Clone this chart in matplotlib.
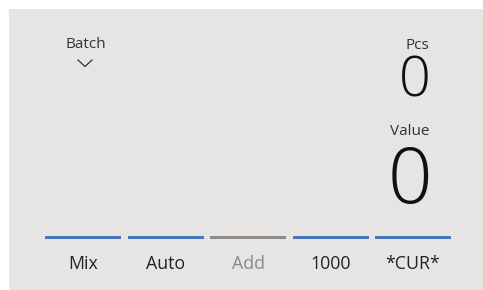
import matplotlib.pyplot as plt
from matplotlib.patches import Rectangle

# screen contents
modes = ["Mix", "Auto", "Add", "1000", "*CUR*"]
active = [True, True, False, True, True]
pcs_value = 0
total_value = 0
batch_label = "Batch"

W, H = 483, 290
BLUE = "#4a76bd"
GREY = "#8f8c89"
BG = "#e6e5e3"

plt.rcParams['font.family'] = ['Open Sans', 'DejaVu Sans']

fig = plt.figure(figsize=(W / 100, H / 100), dpi=100)
fig.patch.set_facecolor("white")
ax = fig.add_axes([0, 0, 1, 1])
ax.set_xlim(0, W)
ax.set_ylim(H, 0)
ax.axis("off")

ax.add_patch(Rectangle((9, 9), W - 9, H - 9, color=BG, lw=0))

# top left: batch selector
ax.text(86, 44.5, batch_label, ha="center", va="center", fontsize=11, color="#333333")
ax.plot([78, 85, 92], [60, 66.5, 60], color="#333333", lw=0.9)

# right side counters
ax.text(429, 45.5, "Pcs", ha="right", va="center", fontsize=11, color="#333333")
ax.text(431, 82, str(pcs_value), ha="right", va="center", fontsize=40,
        fontweight="light", color="#111111")
ax.text(429, 131.5, "Value", ha="right", va="center", fontsize=11, color="#333333")
ax.text(432, 183, str(total_value), ha="right", va="center", fontsize=56,
        fontweight="light", color="#111111")

# bottom mode buttons
x0, w, step = 45, 76, 82.5
for i, (name, on) in enumerate(zip(modes, active)):
    x = x0 + i * step
    ax.add_patch(Rectangle((x, 236), w, 3, color=BLUE if on else GREY, lw=0))
    ax.text(x + w / 2, 264, name, ha="center", va="center", fontsize=12.8,
            color="#222222" if on else "#8a8a8a")

fig.savefig("out.png", dpi=100, facecolor=fig.get_facecolor())
